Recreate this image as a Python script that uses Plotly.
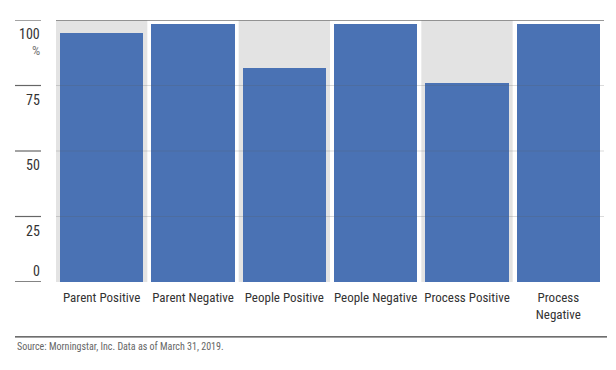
import plotly.graph_objects as go

categories = ["Parent Positive", "Parent Negative", "People Positive",
              "People Negative", "Process Positive", "Process Negative"]
cat_labels = ["Parent Positive", "Parent Negative", "People Positive",
              "People Negative", "Process Positive", "Process<br>Negative"]
values = [95, 98.3, 81.5, 98.3, 76, 98.3]
tick_vals = [0, 25, 50, 75, 100]
tick_text = ["0", "25", "50", "75", "100"]
source_text = "Source: Morningstar, Inc. Data as of March 31, 2019."

FONT = "Liberation Sans Narrow, Roboto Condensed, Arial Narrow, Roboto, sans-serif"
BAR = "#4a72b4"
BAND = "#e3e3e3"

W, H = 616, 370
L, R, T, B = 56, 12, 19.5, 88
pw = W - L - R

def px_to_paper_x(px):
    return (px - L) / pw

def px_to_paper_y(py):
    return (H - B - py) / (H - T - B)

fig = go.Figure()
fig.add_trace(go.Bar(x=list(range(len(categories))), y=values,
                     marker=dict(color=BAR, line=dict(width=0)),
                     width=0.91, hoverinfo="x+y"))

shapes = []
# alternating background bands
for i in range(len(categories)):
    if i % 2 == 0:
        shapes.append(dict(type="rect", xref="x", yref="y", x0=i - 0.5, x1=i + 0.5,
                           y0=0, y1=tick_vals[-1], fillcolor=BAND, line=dict(width=0),
                           layer="below"))
# gridlines over bars
for v in tick_vals[1:-1]:
    shapes.append(dict(type="line", xref="paper", yref="y", x0=0, x1=1, y0=v, y1=v,
                       line=dict(color="rgba(90,90,90,0.22)", width=1), layer="above"))
# top line
shapes.append(dict(type="line", xref="paper", yref="y", x0=0, x1=1, y0=tick_vals[-1], y1=tick_vals[-1],
                   line=dict(color="#777777", width=1.5), layer="above"))
# left tick segments
for v in tick_vals:
    shapes.append(dict(type="line", xref="paper", yref="y",
                       x0=px_to_paper_x(15), x1=px_to_paper_x(41), y0=v, y1=v,
                       line=dict(color="#333333" if v == 0 else "#666666", width=1.2)))
# footer line
shapes.append(dict(type="line", xref="paper", yref="paper",
                   x0=px_to_paper_x(15), x1=px_to_paper_x(607),
                   y0=px_to_paper_y(337), y1=px_to_paper_y(337),
                   line=dict(color="#111111", width=1)))

annotations = []
for v, t in zip(tick_vals, tick_text):
    annotations.append(dict(xref="paper", yref="y", x=px_to_paper_x(42), y=v,
                            text=t, showarrow=False, xanchor="right",
                            yanchor="bottom" if v == 0 else "top",
                            yshift=1 if v == 0 else -4,
                            font=dict(family=FONT, size=14, color="#333333")))
annotations.append(dict(xref="paper", yref="y", x=px_to_paper_x(42), y=tick_vals[-1],
                        text="%", showarrow=False, xanchor="right", yanchor="top", yshift=-21,
                        font=dict(family=FONT, size=13, color="#777777")))
annotations.append(dict(xref="paper", yref="paper", x=px_to_paper_x(15), y=px_to_paper_y(339),
                        text=source_text, showarrow=False, xanchor="left", yanchor="top",
                        font=dict(family=FONT, size=10, color="#666666")))

fig.update_layout(
    width=W, height=H,
    margin=dict(l=L, r=R, t=T, b=B),
    paper_bgcolor="white", plot_bgcolor="white",
    showlegend=False,
    shapes=shapes, annotations=annotations,
    xaxis=dict(tickmode="array", tickvals=list(range(len(categories))), ticktext=cat_labels,
               range=[-0.5, len(categories) - 0.5], showgrid=False, zeroline=False,
               showline=False, ticks="", ticklen=0, ticklabelstandoff=6,
               tickfont=dict(family=FONT, size=13, color="#333333")),
    yaxis=dict(range=[0, tick_vals[-1]], showgrid=False, zeroline=False, showline=False,
               showticklabels=False, ticks=""),
    bargap=0,
)

fig.write_html("out.html", config={"displayModeBar": False},
               post_script="document.body.style.margin='0';document.body.style.overflow='hidden';")
